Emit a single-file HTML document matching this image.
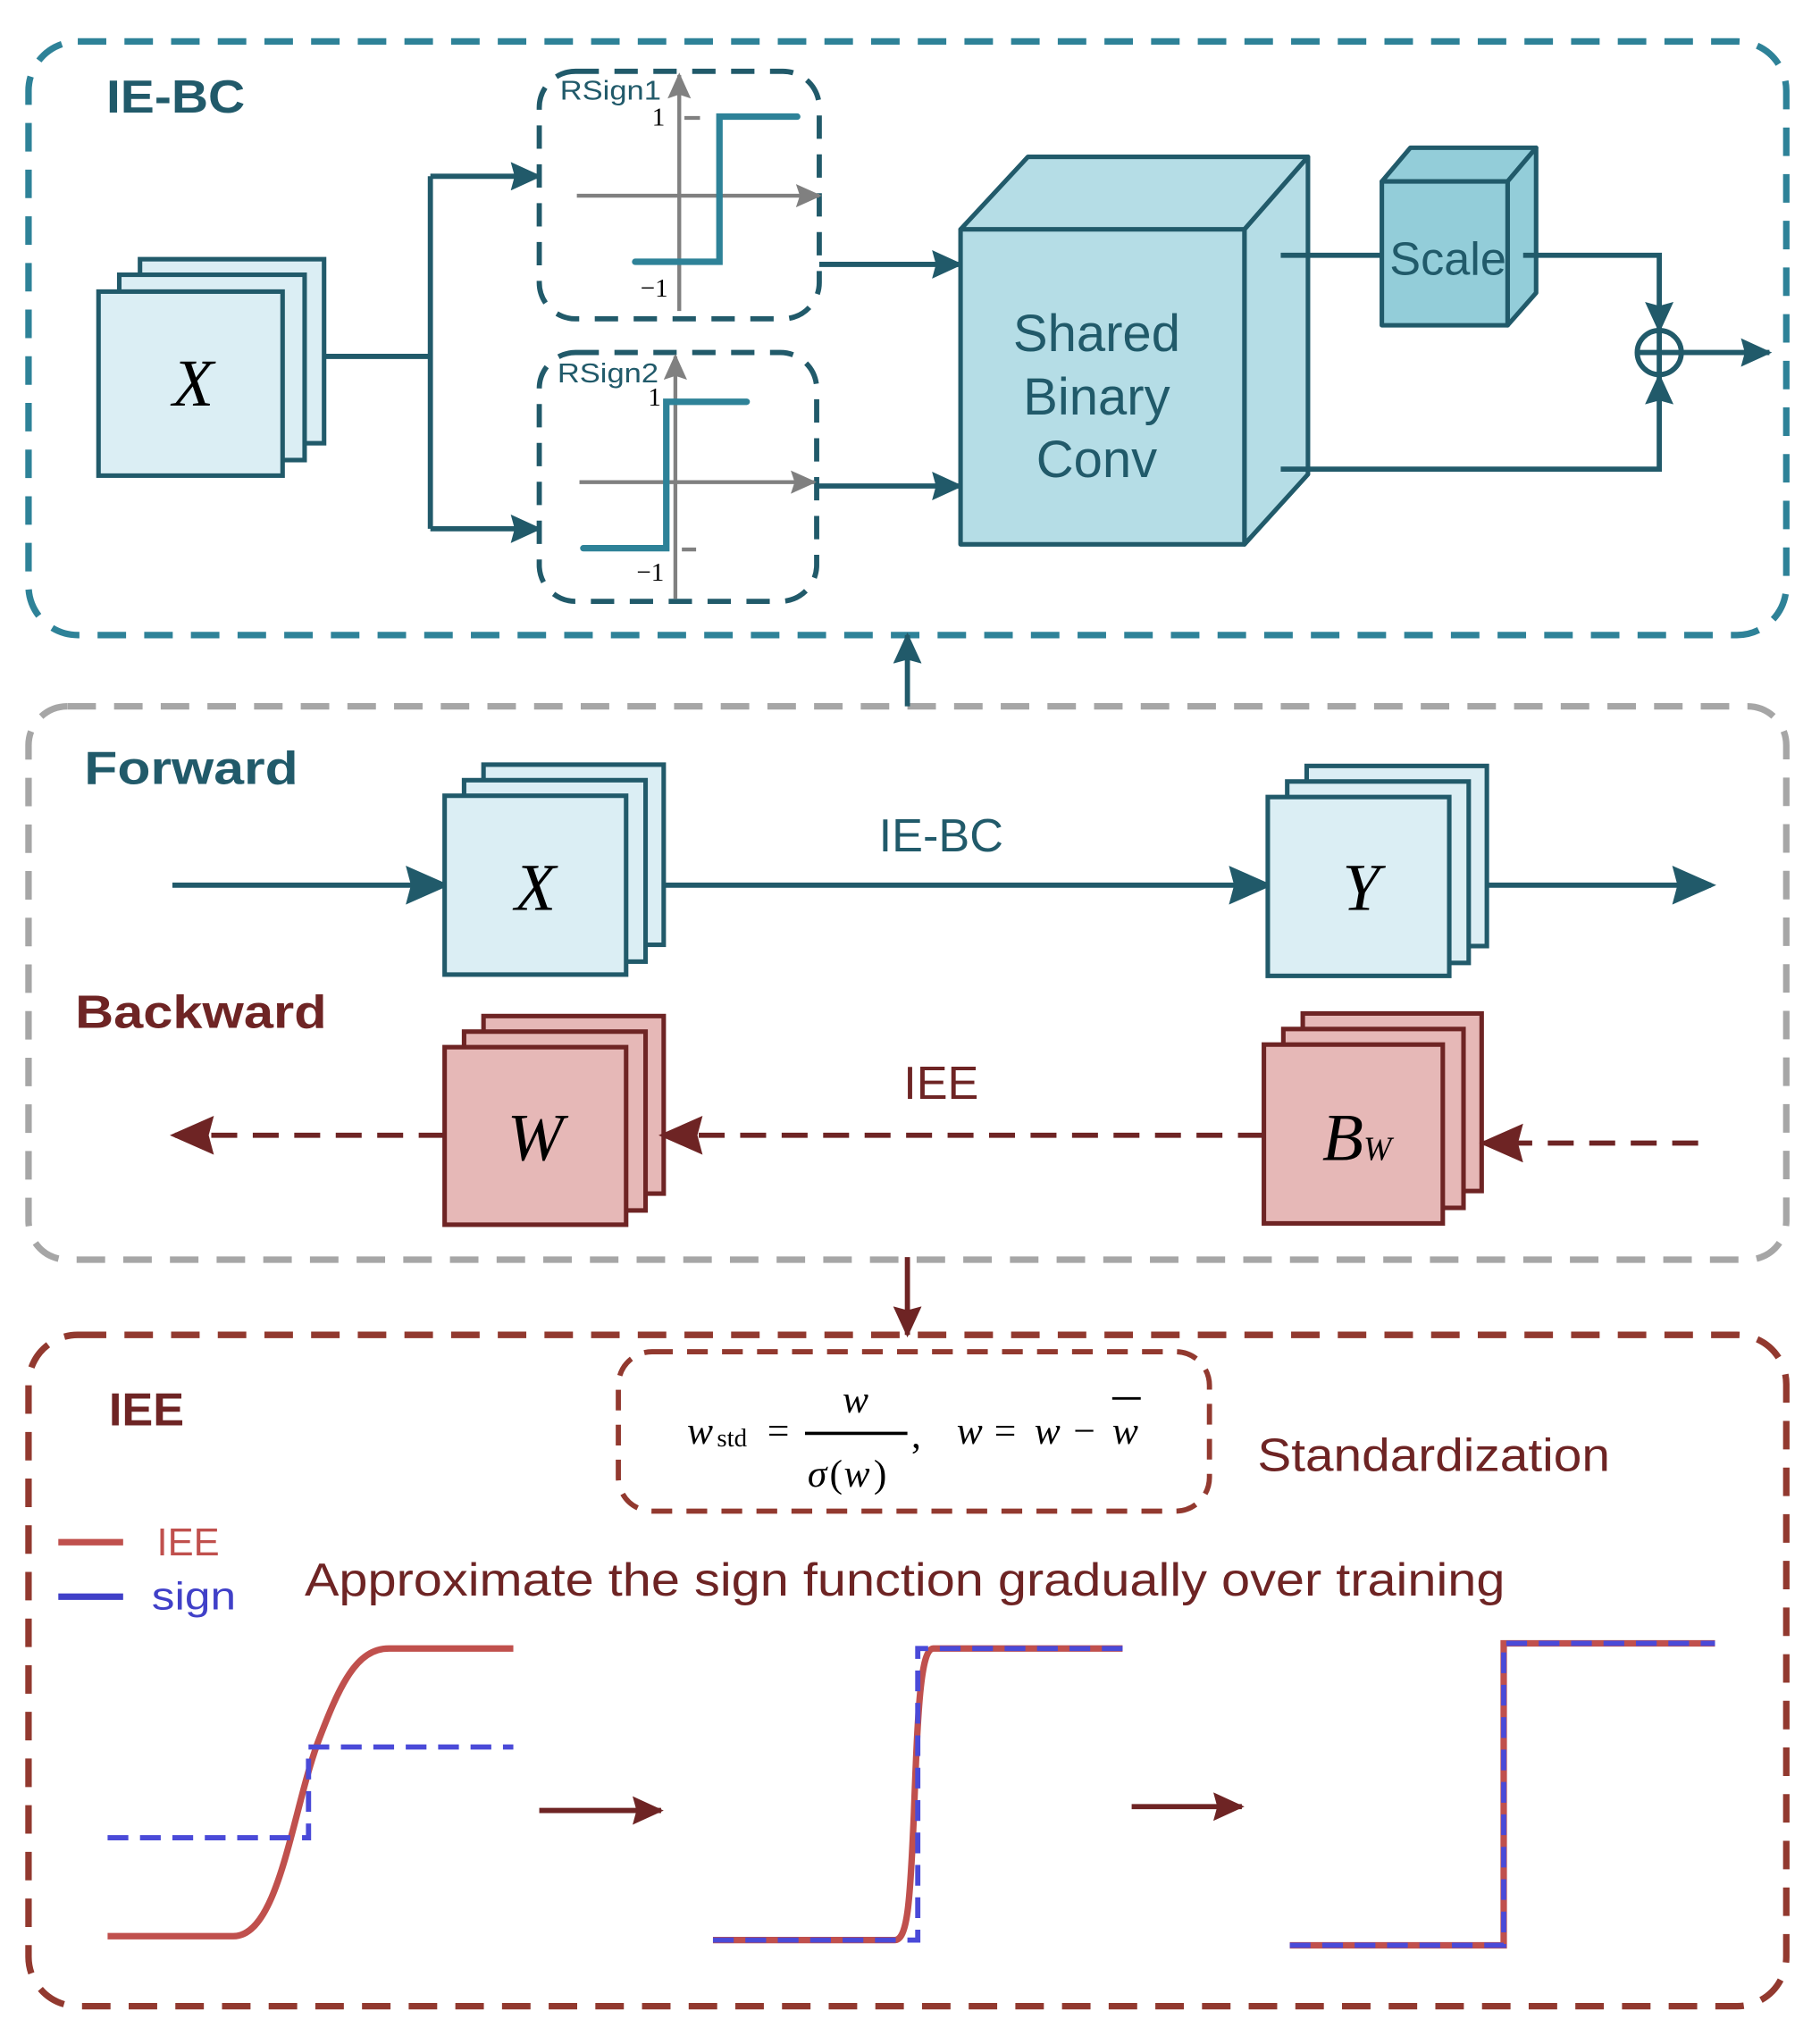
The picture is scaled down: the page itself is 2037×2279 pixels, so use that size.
<!DOCTYPE html>
<html><head><meta charset="utf-8"><style>html,body{margin:0;padding:0;background:#fff}svg{display:block}</style></head>
<body>
<svg width="2037" height="2279" viewBox="0 0 1404 1571" preserveAspectRatio="none" xmlns="http://www.w3.org/2000/svg" font-family="Liberation Sans, sans-serif">
<defs>
<marker id="atb" markerWidth="34" markerHeight="30" refX="30" refY="15" orient="auto" markerUnits="userSpaceOnUse"><path d="M0,0 L34,15 L0,30 L4,15 Z" fill="#215a6a"/></marker>
<marker id="ats" markerWidth="24" markerHeight="22" refX="22" refY="11" orient="auto" markerUnits="userSpaceOnUse"><path d="M0,0 L24,11 L0,22 L3,11 Z" fill="#215a6a"/></marker>
<marker id="ag" markerWidth="20" markerHeight="18" refX="18" refY="9" orient="auto" markerUnits="userSpaceOnUse"><path d="M0,0 L20,9 L0,18 L3,9 Z" fill="#808080"/></marker>
<marker id="ar" markerWidth="34" markerHeight="30" refX="30" refY="15" orient="auto" markerUnits="userSpaceOnUse"><path d="M0,0 L34,15 L0,30 L4,15 Z" fill="#6e2424"/></marker>
<marker id="ars" markerWidth="24" markerHeight="22" refX="22" refY="11" orient="auto" markerUnits="userSpaceOnUse"><path d="M0,0 L24,11 L0,22 L3,11 Z" fill="#6e2424"/></marker>
</defs>

<rect x="22" y="32" width="1356" height="458" rx="38" fill="none" stroke="#2e8298" stroke-width="5" stroke-dasharray="22 14"/>
<rect x="22" y="545" width="1356" height="427" rx="30" fill="none" stroke="#a6a6a6" stroke-width="5" stroke-dasharray="22 14"/>
<rect x="22" y="1030" width="1356" height="518" rx="38" fill="none" stroke="#92392f" stroke-width="5" stroke-dasharray="22 14"/>

<line x1="700" y1="545" x2="700" y2="490" stroke="#215a6a" stroke-width="4" marker-end="url(#ats)"/>
<line x1="700" y1="970" x2="700" y2="1030" stroke="#6e2424" stroke-width="4" marker-end="url(#ars)"/>

<text x="82" y="87" font-size="36" font-weight="bold" fill="#215a6a" textLength="107" lengthAdjust="spacingAndGlyphs">IE-BC</text>
<text x="65" y="605" font-size="36" font-weight="bold" fill="#215a6a" textLength="165" lengthAdjust="spacingAndGlyphs">Forward</text>
<text x="58" y="793" font-size="36" font-weight="bold" fill="#6e2424" textLength="194" lengthAdjust="spacingAndGlyphs">Backward</text>
<text x="84" y="1100" font-size="36" font-weight="bold" fill="#6e2424">IEE</text>

<g fill="#dbeef4" stroke="#215a6a" stroke-width="3.5">
<rect x="108" y="200" width="142" height="142"/>
<rect x="92" y="212" width="143" height="143"/>
<rect x="76" y="225" width="142" height="142"/>
</g>
<text x="149" y="313" font-size="52" font-style="italic" font-family="Liberation Serif, serif" text-anchor="middle">X</text>
<polyline points="250,275 332,275" fill="none" stroke="#215a6a" stroke-width="4"/>
<polyline points="332,136 332,408" fill="none" stroke="#215a6a" stroke-width="4"/>
<line x1="332" y1="136" x2="416" y2="136" stroke="#215a6a" stroke-width="4" marker-end="url(#ats)"/>
<line x1="332" y1="408" x2="416" y2="408" stroke="#215a6a" stroke-width="4" marker-end="url(#ats)"/>

<rect x="416" y="55" width="216" height="191" rx="28" fill="none" stroke="#215a6a" stroke-width="4" stroke-dasharray="18 12"/>
<rect x="416" y="272" width="214" height="192" rx="28" fill="none" stroke="#215a6a" stroke-width="4" stroke-dasharray="18 12"/>
<line x1="524" y1="240" x2="524" y2="58" stroke="#808080" stroke-width="3" marker-end="url(#ag)"/>
<line x1="445" y1="151" x2="632" y2="151" stroke="#808080" stroke-width="3" marker-end="url(#ag)"/>
<line x1="528" y1="91" x2="540" y2="91" stroke="#808080" stroke-width="3"/>
<polyline points="490,202 555,202 555,90 615,90" fill="none" stroke="#2e8298" stroke-width="5" stroke-linecap="round"/>
<text x="432" y="77" font-size="21" fill="#215a6a" textLength="78" lengthAdjust="spacingAndGlyphs">RSign1</text>
<text x="503" y="97" font-size="20" font-family="Liberation Serif, serif">1</text>
<text x="494" y="229" font-size="20" font-family="Liberation Serif, serif">−1</text>
<line x1="521" y1="462" x2="521" y2="275" stroke="#808080" stroke-width="3" marker-end="url(#ag)"/>
<line x1="447" y1="372" x2="628" y2="372" stroke="#808080" stroke-width="3" marker-end="url(#ag)"/>
<line x1="526" y1="424" x2="537" y2="424" stroke="#808080" stroke-width="3"/>
<polyline points="450,423 514,423 514,310 576,310" fill="none" stroke="#2e8298" stroke-width="5" stroke-linecap="round"/>
<text x="430" y="295" font-size="21" fill="#215a6a" textLength="78" lengthAdjust="spacingAndGlyphs">RSign2</text>
<text x="500" y="313" font-size="20" font-family="Liberation Serif, serif">1</text>
<text x="491" y="448" font-size="20" font-family="Liberation Serif, serif">−1</text>

<line x1="632" y1="204" x2="741" y2="204" stroke="#215a6a" stroke-width="4" marker-end="url(#ats)"/>
<line x1="630" y1="375" x2="741" y2="375" stroke="#215a6a" stroke-width="4" marker-end="url(#ats)"/>

<g stroke="#215a6a" stroke-width="3.5" stroke-linejoin="round">
<polygon points="741,177 793,121 1009,121 960,177" fill="#b5dde6"/>
<polygon points="960,177 1009,121 1009,366 960,420" fill="#b5dde6"/>
<rect x="741" y="177" width="219" height="243" fill="#b5dde6"/>
</g>
<text font-size="40" fill="#215a6a" text-anchor="middle"><tspan x="846" y="271">Shared</tspan><tspan x="846" y="320">Binary</tspan><tspan x="846" y="368">Conv</tspan></text>

<line x1="988" y1="197" x2="1066" y2="197" stroke="#215a6a" stroke-width="4"/>
<g stroke="#215a6a" stroke-width="3.5" stroke-linejoin="round">
<polygon points="1066,140 1088,114 1185,114 1163,140" fill="#93cdd9"/>
<polygon points="1163,140 1185,114 1185,226 1163,251" fill="#93cdd9"/>
<rect x="1066" y="140" width="97" height="111" fill="#93cdd9"/>
</g>
<text x="1117" y="212" font-size="36" fill="#215a6a" text-anchor="middle">Scale</text>
<polyline points="1175,197 1280,197 1280,255" fill="none" stroke="#215a6a" stroke-width="4" marker-end="url(#ats)"/>
<polyline points="988,362 1280,362 1280,290" fill="none" stroke="#215a6a" stroke-width="4" marker-end="url(#ats)"/>
<circle cx="1280" cy="272" r="17" fill="none" stroke="#215a6a" stroke-width="4"/>
<line x1="1263" y1="272" x2="1297" y2="272" stroke="#215a6a" stroke-width="4"/>
<line x1="1280" y1="255" x2="1280" y2="289" stroke="#215a6a" stroke-width="4"/>
<line x1="1297" y1="272" x2="1365" y2="272" stroke="#215a6a" stroke-width="4" marker-end="url(#ats)"/>

<line x1="133" y1="683" x2="343" y2="683" stroke="#215a6a" stroke-width="4" marker-end="url(#atb)"/>
<g fill="#dbeef4" stroke="#215a6a" stroke-width="3.5">
<rect x="373" y="590" width="139" height="139"/>
<rect x="358" y="602" width="140" height="140"/>
<rect x="343" y="614" width="140" height="138"/>
</g>
<text x="413" y="702" font-size="52" font-style="italic" font-family="Liberation Serif, serif" text-anchor="middle">X</text>
<line x1="512" y1="683" x2="978" y2="683" stroke="#215a6a" stroke-width="4" marker-end="url(#atb)"/>
<text x="726" y="657" font-size="36" fill="#215a6a" text-anchor="middle">IE-BC</text>
<g fill="#dbeef4" stroke="#215a6a" stroke-width="3.5">
<rect x="1008" y="591" width="139" height="139"/>
<rect x="993" y="603" width="140" height="140"/>
<rect x="978" y="615" width="140" height="138"/>
</g>
<text x="1050" y="702" font-size="52" font-style="italic" font-family="Liberation Serif, serif" text-anchor="middle">Y</text>
<line x1="1147" y1="683" x2="1320" y2="683" stroke="#215a6a" stroke-width="4" marker-end="url(#atb)"/>

<g fill="#e6b8b7" stroke="#6e2424" stroke-width="3.5">
<rect x="373" y="784" width="139" height="137"/>
<rect x="358" y="796" width="140" height="138"/>
<rect x="343" y="808" width="140" height="137"/>
</g>
<text x="413" y="895" font-size="52" font-style="italic" font-family="Liberation Serif, serif" text-anchor="middle">W</text>
<g fill="#e6b8b7" stroke="#6e2424" stroke-width="3.5">
<rect x="1005" y="782" width="138" height="137"/>
<rect x="990" y="794" width="139" height="138"/>
<rect x="975" y="806" width="138" height="138"/>
</g>
<text x="1020" y="895" font-size="52" font-style="italic" font-family="Liberation Serif, serif">B<tspan font-size="26">W</tspan></text>
<line x1="975" y1="876" x2="512" y2="876" stroke="#6e2424" stroke-width="4" stroke-dasharray="20 12" marker-end="url(#ar)"/>
<text x="726" y="848" font-size="36" fill="#6e2424" text-anchor="middle">IEE</text>
<line x1="343" y1="876" x2="135" y2="876" stroke="#6e2424" stroke-width="4" stroke-dasharray="20 12" marker-end="url(#ar)"/>
<line x1="1310" y1="882" x2="1145" y2="882" stroke="#6e2424" stroke-width="4" stroke-dasharray="20 12" marker-end="url(#ar)"/>

<rect x="477" y="1043" width="456" height="123" rx="26" fill="none" stroke="#92392f" stroke-width="4" stroke-dasharray="16 11"/>
<g font-family="Liberation Serif, serif" font-size="30">
<text x="530" y="1114" font-style="italic">w</text>
<text x="553" y="1116" font-size="20">std</text>
<text x="592" y="1114">=</text>
<text x="650" y="1090" font-style="italic">w</text>
<line x1="621" y1="1106" x2="700" y2="1106" stroke="#000" stroke-width="2.5"/>
<text x="623" y="1147" font-style="italic">σ</text>
<text x="640" y="1147">(</text>
<text x="651" y="1147" font-style="italic">w</text>
<text x="674" y="1147">)</text>
<text x="703" y="1117">,</text>
<text x="738" y="1114" font-style="italic">w</text>
<text x="767" y="1114">=</text>
<text x="798" y="1114" font-style="italic">w</text>
<text x="828" y="1114">−</text>
<text x="858" y="1114" font-style="italic">w</text>
<line x1="858" y1="1079" x2="880" y2="1079" stroke="#000" stroke-width="2"/>
</g>
<text x="970" y="1135" font-size="36" fill="#6e2424" textLength="272" lengthAdjust="spacingAndGlyphs">Standardization</text>

<line x1="45" y1="1190" x2="95" y2="1190" stroke="#c0504d" stroke-width="5"/>
<text x="121" y="1200" font-size="30" fill="#c0504d">IEE</text>
<line x1="45" y1="1232" x2="95" y2="1232" stroke="#4040c8" stroke-width="5"/>
<text x="117" y="1242" font-size="30" fill="#4040c8" textLength="65" lengthAdjust="spacingAndGlyphs">sign</text>
<text x="235" y="1231" font-size="36" fill="#6e2424" textLength="926" lengthAdjust="spacingAndGlyphs">Approximate the sign function gradually over training</text>

<path d="M83,1494 L180,1494 C215,1494 225,1400 245,1345 C262,1300 275,1272 300,1272 L396,1272" fill="none" stroke="#c0504d" stroke-width="5"/>
<polyline points="83,1418 238,1418 238,1348 396,1348" fill="none" stroke="#4a4ad8" stroke-width="4" stroke-dasharray="16 9"/>
<line x1="416" y1="1397" x2="510" y2="1397" stroke="#6e2424" stroke-width="4" marker-end="url(#ars)"/>
<path d="M550,1497 L690,1497 C700,1497 702,1470 705,1400 C708,1320 710,1272 720,1272 L866,1272" fill="none" stroke="#c0504d" stroke-width="5"/>
<polyline points="550,1497 708,1497 708,1272 866,1272" fill="none" stroke="#4a4ad8" stroke-width="4" stroke-dasharray="16 9"/>
<line x1="873" y1="1394" x2="958" y2="1394" stroke="#6e2424" stroke-width="4" marker-end="url(#ars)"/>
<polyline points="995,1501 1160,1501 1160,1268 1323,1268" fill="none" stroke="#c0504d" stroke-width="5"/>
<polyline points="995,1501 1160,1501 1160,1268 1323,1268" fill="none" stroke="#4a4ad8" stroke-width="4" stroke-dasharray="16 9"/>
</svg>
</body></html>
